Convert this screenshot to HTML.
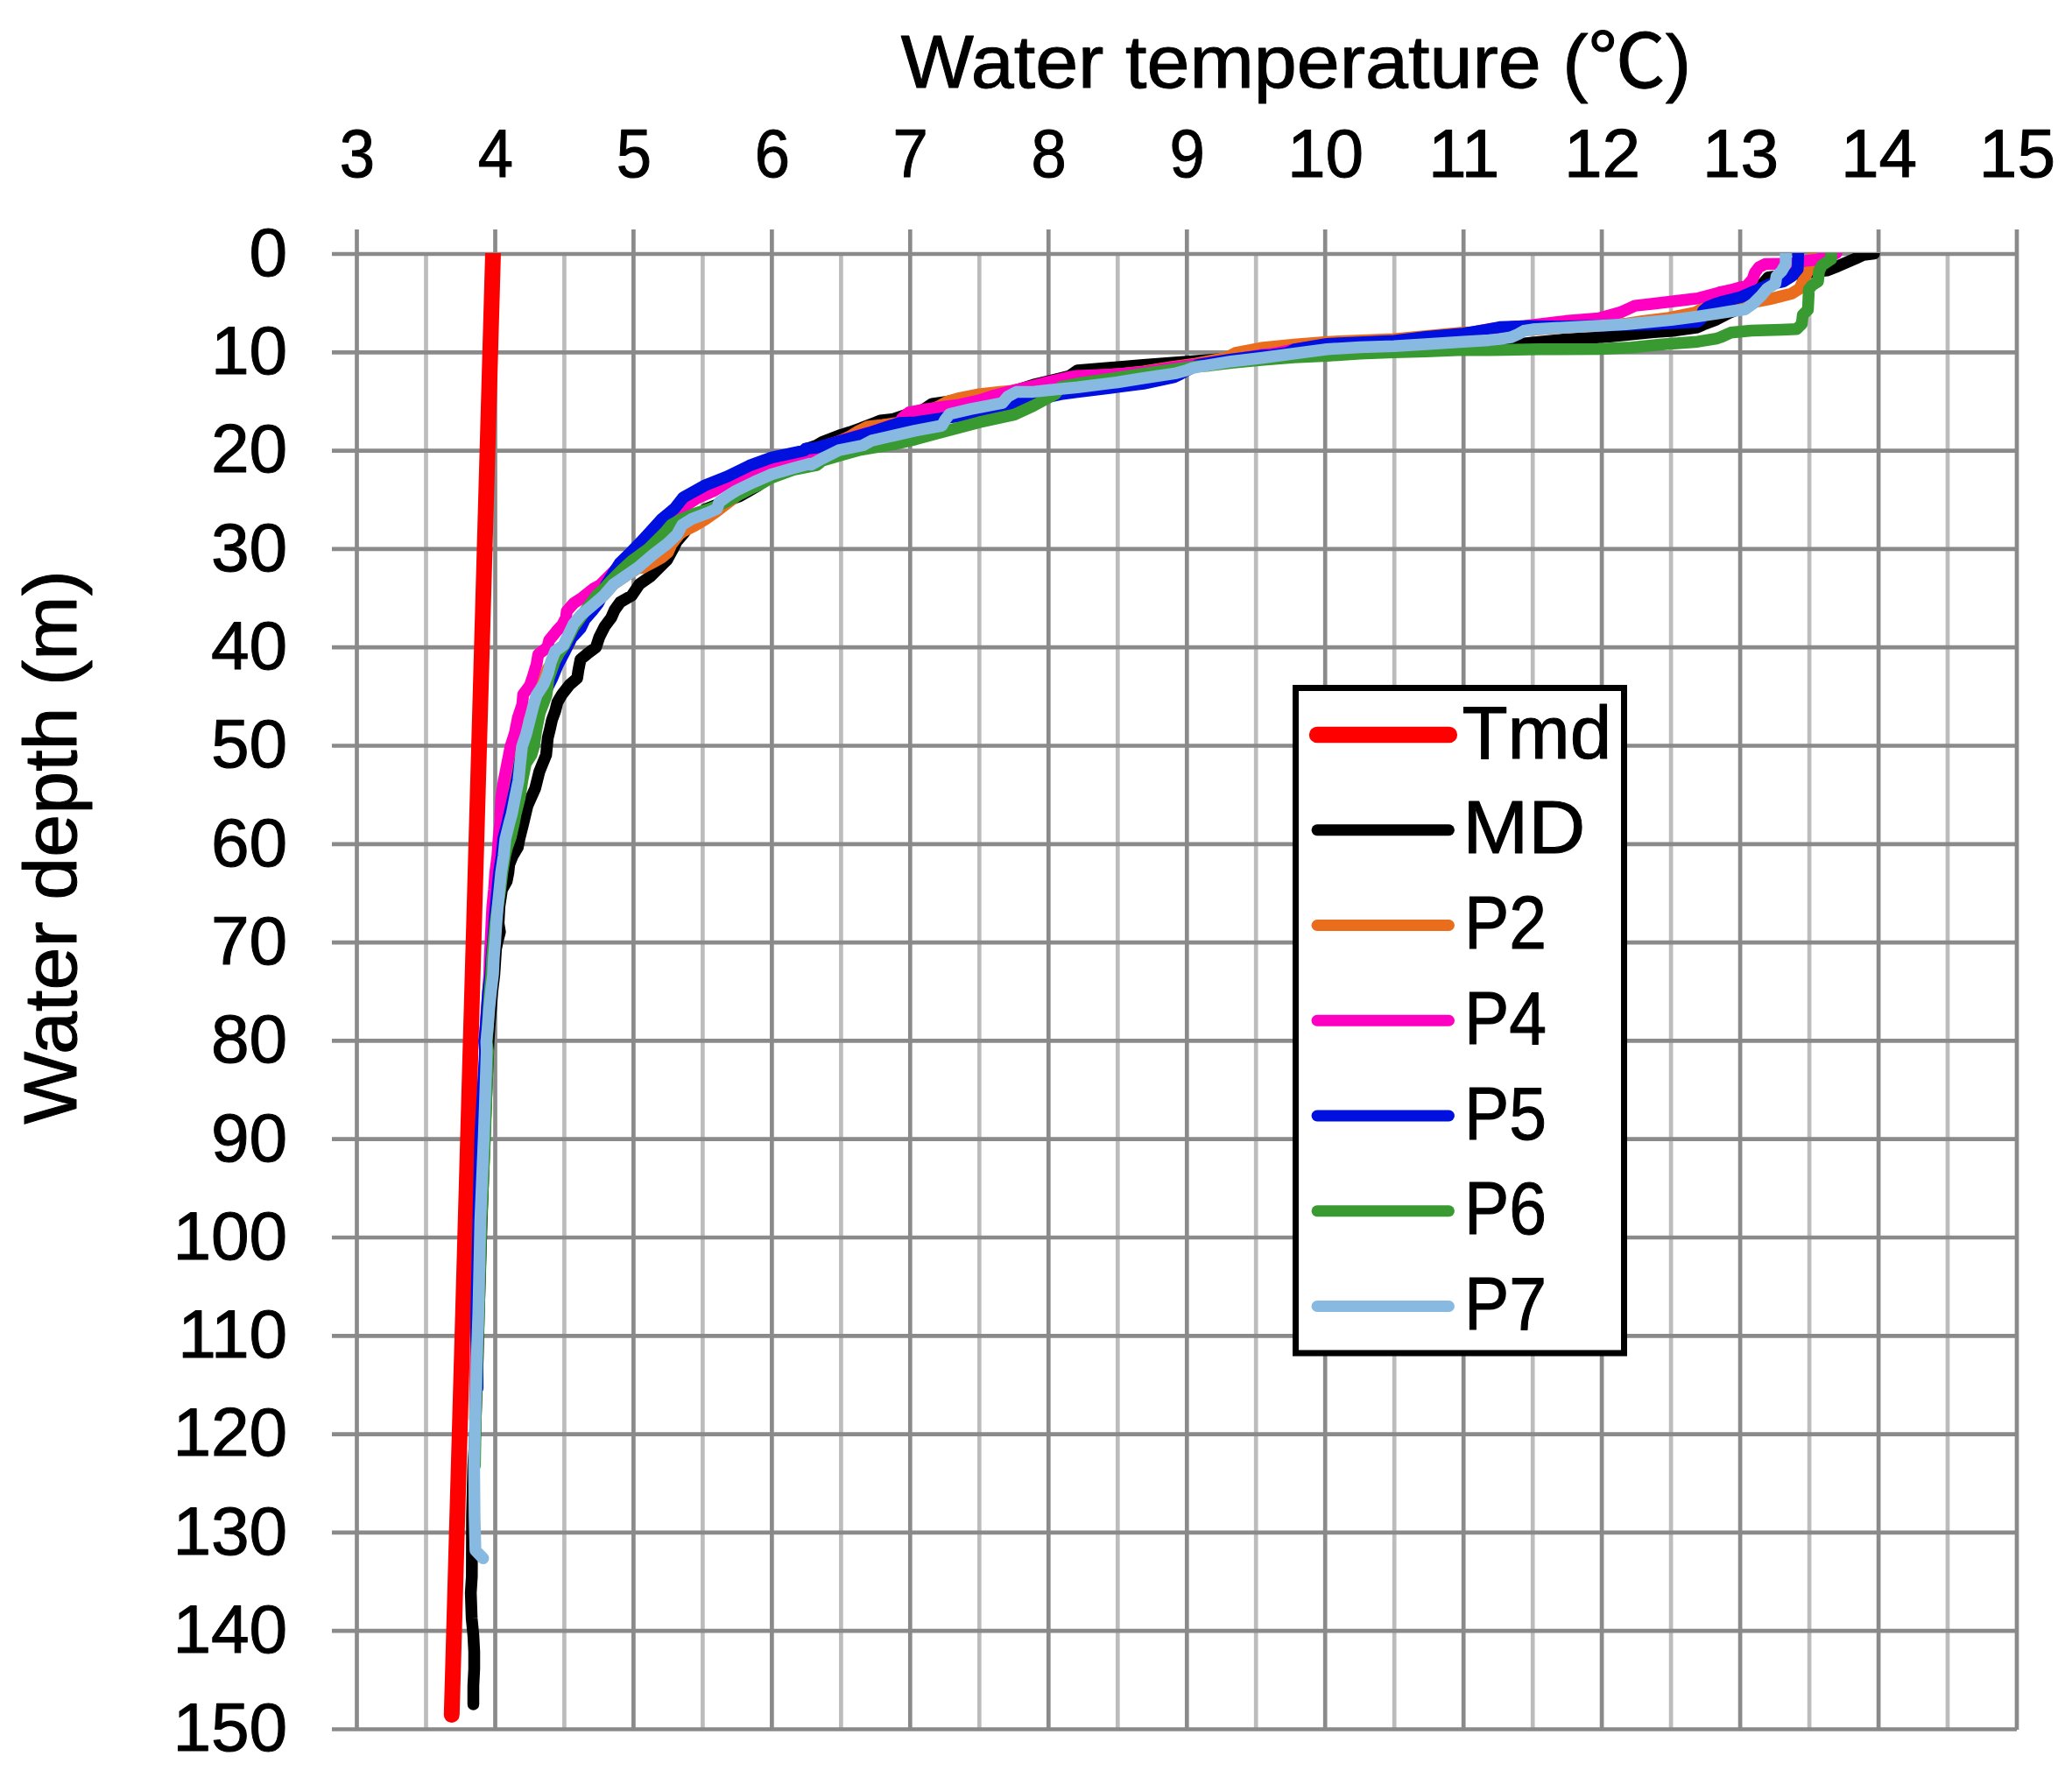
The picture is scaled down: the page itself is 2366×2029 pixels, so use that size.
<!DOCTYPE html>
<html lang="en"><head><meta charset="utf-8"><title>Water temperature profiles</title>
<style>
html,body{margin:0;padding:0;background:#fff;}
body{width:2366px;height:2029px;overflow:hidden;}
svg{display:block;}
text{font-family:"Liberation Sans",sans-serif;fill:#000;stroke:#000;stroke-width:1px;stroke-linejoin:round;}
</style></head><body>
<svg width="2366" height="2029" viewBox="0 0 2366 2029">
<defs><clipPath id="plot"><rect x="400" y="289" width="1910" height="1690"/></clipPath></defs>
<rect width="2366" height="2029" fill="#fff"/>
<g stroke="#bcbcbc" stroke-width="4.7">
<line x1="486.5" y1="290.0" x2="486.5" y2="1975.0"/>
<line x1="644.4" y1="290.0" x2="644.4" y2="1975.0"/>
<line x1="802.4" y1="290.0" x2="802.4" y2="1975.0"/>
<line x1="960.4" y1="290.0" x2="960.4" y2="1975.0"/>
<line x1="1118.3" y1="290.0" x2="1118.3" y2="1975.0"/>
<line x1="1276.3" y1="290.0" x2="1276.3" y2="1975.0"/>
<line x1="1434.2" y1="290.0" x2="1434.2" y2="1975.0"/>
<line x1="1592.2" y1="290.0" x2="1592.2" y2="1975.0"/>
<line x1="1750.2" y1="290.0" x2="1750.2" y2="1975.0"/>
<line x1="1908.1" y1="290.0" x2="1908.1" y2="1975.0"/>
<line x1="2066.1" y1="290.0" x2="2066.1" y2="1975.0"/>
<line x1="2224.0" y1="290.0" x2="2224.0" y2="1975.0"/>
</g>
<g stroke="#8a8a8a" stroke-width="4.7">
<line x1="379" y1="290.0" x2="2303.0" y2="290.0"/>
<line x1="379" y1="402.3" x2="2303.0" y2="402.3"/>
<line x1="379" y1="514.6" x2="2303.0" y2="514.6"/>
<line x1="379" y1="626.9" x2="2303.0" y2="626.9"/>
<line x1="379" y1="739.2" x2="2303.0" y2="739.2"/>
<line x1="379" y1="851.5" x2="2303.0" y2="851.5"/>
<line x1="379" y1="963.8" x2="2303.0" y2="963.8"/>
<line x1="379" y1="1076.1" x2="2303.0" y2="1076.1"/>
<line x1="379" y1="1188.4" x2="2303.0" y2="1188.4"/>
<line x1="379" y1="1300.7" x2="2303.0" y2="1300.7"/>
<line x1="379" y1="1413.0" x2="2303.0" y2="1413.0"/>
<line x1="379" y1="1525.3" x2="2303.0" y2="1525.3"/>
<line x1="379" y1="1637.6" x2="2303.0" y2="1637.6"/>
<line x1="379" y1="1749.9" x2="2303.0" y2="1749.9"/>
<line x1="379" y1="1862.2" x2="2303.0" y2="1862.2"/>
<line x1="379" y1="1974.5" x2="2303.0" y2="1974.5"/>
</g>
<g stroke="#8a8a8a" stroke-width="4.7">
<line x1="407.5" y1="262" x2="407.5" y2="1975.0"/>
<line x1="565.5" y1="262" x2="565.5" y2="1975.0"/>
<line x1="723.4" y1="262" x2="723.4" y2="1975.0"/>
<line x1="881.4" y1="262" x2="881.4" y2="1975.0"/>
<line x1="1039.3" y1="262" x2="1039.3" y2="1975.0"/>
<line x1="1197.3" y1="262" x2="1197.3" y2="1975.0"/>
<line x1="1355.3" y1="262" x2="1355.3" y2="1975.0"/>
<line x1="1513.2" y1="262" x2="1513.2" y2="1975.0"/>
<line x1="1671.2" y1="262" x2="1671.2" y2="1975.0"/>
<line x1="1829.1" y1="262" x2="1829.1" y2="1975.0"/>
<line x1="1987.1" y1="262" x2="1987.1" y2="1975.0"/>
<line x1="2145.1" y1="262" x2="2145.1" y2="1975.0"/>
<line x1="2303.0" y1="262" x2="2303.0" y2="1975.0"/>
</g>
<g clip-path="url(#plot)">
<polyline points="563.2,282.0 515.8,1958.0" fill="none" stroke="#fe0000" stroke-width="18" stroke-linejoin="round" stroke-linecap="round"/>
<polyline points="2140.0,289.5 2128.0,291.0 2118.5,295.4 2095.5,305.2 2086.0,308.9 2045.8,313.2 2019.2,316.7 2011.1,326.0 2005.3,337.6 1994.9,349.1 1974.0,357.5 1960.0,364.9 1944.7,370.8 1938.4,373.7 1913.3,377.4 1888.2,379.3 1838.0,384.2 1787.8,387.5 1750.2,391.1 1740.2,392.1 1700.0,395.3 1670.8,395.2 1591.8,399.0 1515.3,402.7 1477.6,405.3 1440.0,407.8 1400.9,409.4 1355.1,412.9 1305.5,416.7 1276.1,419.2 1230.2,423.0 1221.4,429.2 1211.4,431.7 1197.1,435.3 1180.0,439.3 1155.9,447.1 1118.1,451.4 1095.7,455.8 1081.9,458.6 1064.3,461.1 1054.3,467.8 1032.9,474.3 1020.4,478.4 1005.3,480.1 1000.3,482.2 982.7,489.1 970.2,493.5 960.2,496.6 938.8,504.8 932.5,508.5 920.0,512.9 899.6,525.8 880.8,540.9 865.7,554.3 853.2,561.6 844.4,566.6 830.6,571.6 818.0,576.6 805.5,581.6 792.9,592.9 780.4,609.3 772.9,618.0 767.8,628.1 761.6,639.4 751.5,649.4 742.7,658.2 730.2,667.0 721.4,680.0 708.1,687.7 701.8,696.5 698.0,705.3 690.5,715.3 684.2,727.8 680.5,739.1 670.4,746.7 662.9,752.9 660.4,765.5 659.1,774.3 650.4,781.8 641.6,793.1 636.5,801.9 634.0,811.9 630.3,822.0 627.8,833.2 625.5,842.7 623.6,862.0 615.8,881.3 611.0,900.6 602.3,919.9 597.9,938.6 593.1,957.9 591.2,967.6 585.4,977.2 581.5,986.9 580.5,996.5 578.6,1006.2 573.2,1015.8 570.3,1035.1 569.3,1054.4 570.9,1064.1 568.4,1073.7 566.4,1083.4 564.5,1112.4 562.2,1131.7 560.7,1151.0 559.1,1170.3 557.8,1189.6 557.4,1200.0 553.5,1296.5 550.0,1393.1 546.8,1500.0 545.6,1548.3 543.3,1615.8 542.1,1648.6 540.4,1673.7 539.0,1731.7 538.8,1800.0 537.6,1818.6 538.6,1847.6 540.5,1866.9 541.5,1886.2 541.5,1905.5 540.5,1924.8 540.5,1946.0" fill="none" stroke="#000000" stroke-width="13.5" stroke-linejoin="round" stroke-linecap="round"/>
<polyline points="2071.3,286.6 2069.0,298.2 2064.4,309.8 2058.6,321.3 2055.1,329.4 2045.8,335.2 2034.3,338.1 2020.4,341.6 1987.9,348.0 1964.8,350.3 1960.0,348.8 1942.2,353.5 1934.7,357.2 1905.8,362.9 1875.7,366.6 1858.1,369.4 1825.5,372.0 1787.8,373.9 1700.0,379.6 1670.8,379.8 1591.8,387.3 1515.3,390.4 1477.6,393.6 1440.0,397.3 1410.9,402.9 1400.9,408.3 1365.7,415.2 1336.9,419.2 1305.5,424.2 1277.9,427.1 1230.2,430.2 1180.0,440.9 1155.9,446.1 1139.6,447.7 1118.1,450.2 1095.7,454.6 1081.9,458.4 1070.6,464.6 1045.5,474.0 1025.4,482.8 1007.8,485.3 990.3,487.2 980.2,492.2 970.2,498.5 957.6,504.2 932.5,512.9 920.0,518.6 920.1,520.2 881.3,533.3 855.7,553.0 836.9,569.7 818.0,584.2 805.5,592.9 792.9,600.5 780.4,606.7 775.4,610.5 770.4,616.8 766.6,621.8 762.8,630.6 755.3,636.9 742.7,643.8 734.0,648.2 728.3,648.8 714.5,657.6 700.7,667.0 690.2,678.6 669.9,697.9 656.4,717.2 649.6,735.6 635.1,750.0 625.5,763.6 617.8,784.8 610.0,804.1 604.2,823.4 597.5,842.7 591.7,865.9 589.2,881.3 586.9,898.7 583.0,919.9 580.3,938.6 575.5,957.9 573.6,977.2 570.7,996.5 568.8,1015.8 566.8,1035.1 565.3,1054.4 563.9,1073.7 562.4,1093.1 561.4,1112.4 559.1,1131.7 557.2,1151.0 555.6,1170.3 553.7,1189.6 554.3,1200.0 549.7,1296.5 546.6,1393.1 544.6,1500.0 543.1,1529.0 542.7,1577.2 542.3,1619.7" fill="none" stroke="#ea6d1e" stroke-width="13.5" stroke-linejoin="round" stroke-linecap="round"/>
<polyline points="2097.0,289.1 2075.0,296.5 2060.0,298.1 2045.8,301.1 2015.7,301.6 2008.8,305.1 2004.1,310.9 2001.2,319.0 1994.9,326.0 1976.3,331.2 1964.8,333.5 1960.0,335.1 1938.4,340.8 1888.2,346.7 1866.9,349.1 1850.6,356.6 1825.5,363.5 1787.8,366.6 1741.4,372.3 1716.3,374.3 1700.0,375.8 1670.8,381.4 1628.2,385.2 1591.8,389.6 1552.9,391.4 1515.3,393.3 1477.6,399.0 1452.5,404.0 1440.0,405.3 1405.9,410.8 1365.7,416.1 1336.9,419.8 1305.5,424.8 1276.1,427.3 1230.2,429.2 1221.4,430.5 1197.1,436.1 1180.0,440.5 1155.9,446.4 1133.3,452.1 1118.1,457.1 1095.7,462.1 1075.6,464.6 1054.3,467.8 1038.0,470.9 1030.4,477.2 1026.7,482.8 995.3,493.1 960.2,503.1 945.1,507.9 932.5,513.6 920.0,519.2 918.4,520.8 881.3,529.6 855.7,538.6 830.6,550.9 815.5,560.3 795.4,569.1 780.4,579.1 772.9,586.7 756.5,594.8 745.3,606.7 733.7,619.3 721.4,631.8 708.9,644.4 697.6,655.7 685.0,668.2 677.6,672.2 665.0,682.3 655.0,688.9 647.2,697.7 646.3,705.3 642.2,713.4 635.3,720.9 627.1,731.0 625.0,739.1 614.6,747.3 612.7,758.6 608.9,771.1 605.2,782.4 597.4,793.1 596.4,804.4 591.4,819.4 587.9,837.0 583.0,852.4 579.2,871.7 575.3,891.0 572.4,910.3 571.4,929.6 571.3,938.6 569.3,957.9 568.0,977.2 565.5,996.5 564.1,1015.8 562.2,1035.1 561.2,1054.4 560.3,1073.7 559.3,1093.1 558.7,1112.4 557.4,1131.7 555.8,1151.0 554.7,1170.3 553.3,1189.6 554.3,1200.0 549.3,1296.5 546.6,1393.1 544.2,1500.0 543.5,1557.9 542.9,1610.0" fill="none" stroke="#ff00c2" stroke-width="13.5" stroke-linejoin="round" stroke-linecap="round"/>
<polyline points="2053.4,286.6 2052.8,307.4 2045.8,315.5 2036.6,321.3 2020.4,324.8 2004.1,332.3 1987.9,339.3 1964.8,345.1 1960.0,346.6 1949.7,350.7 1944.7,355.1 1942.8,363.9 1938.4,367.4 1888.2,369.9 1846.8,371.2 1830.5,371.8 1787.8,372.7 1741.4,372.5 1712.5,373.5 1700.0,376.1 1670.8,381.0 1628.2,384.8 1591.8,389.2 1552.9,391.1 1515.3,392.7 1477.6,399.2 1470.1,403.0 1452.5,405.5 1440.0,406.1 1405.9,410.4 1368.2,416.7 1355.7,422.7 1346.9,427.7 1340.6,430.6 1305.5,438.1 1276.1,441.9 1230.2,447.6 1211.4,450.1 1192.5,454.1 1180.0,456.6 1165.5,458.4 1117.1,470.3 1093.0,475.5 1074.3,477.8 1045.5,482.2 1026.7,483.1 995.3,493.5 960.2,503.5 932.5,511.1 920.0,512.3 918.4,514.5 881.3,522.3 855.7,531.7 830.6,544.0 805.5,554.0 780.4,567.8 770.4,580.4 755.3,592.9 744.0,605.5 732.5,618.0 720.2,630.6 707.6,643.1 699.5,655.7 691.9,668.2 688.2,678.6 683.4,688.3 676.1,697.9 667.6,707.6 663.1,717.2 652.5,728.8 644.8,744.2 636.7,759.7 630.3,775.1 622.6,790.6 613.9,809.9 606.2,829.2 599.4,848.5 594.0,867.8 591.7,881.3 588.0,900.6 583.8,919.9 579.6,938.6 574.7,957.9 572.8,977.2 569.9,996.5 568.0,1015.8 566.1,1035.1 564.5,1054.4 563.0,1073.7 561.4,1093.1 560.1,1112.4 557.4,1131.7 556.2,1151.0 554.7,1170.3 553.1,1189.6 553.9,1200.0 548.5,1296.5 546.2,1393.1 543.9,1500.0 543.9,1529.0 545.2,1557.9 545.4,1584.9" fill="none" stroke="#0010de" stroke-width="13.5" stroke-linejoin="round" stroke-linecap="round"/>
<polyline points="2091.0,286.6 2091.0,295.9 2080.6,302.8 2077.1,309.8 2076.0,321.3 2069.0,326.0 2065.5,330.6 2064.9,344.5 2064.4,353.8 2058.6,359.6 2057.4,370.0 2051.6,375.8 2034.3,376.4 1999.5,377.5 1976.3,379.8 1964.8,385.0 1960.0,386.7 1938.4,390.2 1900.8,393.0 1863.1,396.8 1825.5,398.4 1757.7,398.8 1718.8,399.4 1700.0,399.8 1670.8,399.4 1628.2,401.2 1591.8,402.2 1552.9,403.7 1515.3,406.3 1477.6,408.1 1440.0,411.0 1405.9,414.3 1380.8,417.4 1368.2,418.3 1355.1,419.8 1305.5,426.7 1276.1,431.1 1230.2,438.0 1211.4,441.8 1205.1,449.8 1192.5,456.7 1180.0,463.4 1158.4,473.4 1118.1,482.2 1070.6,494.7 1045.5,501.6 1020.4,507.3 982.7,513.6 960.2,519.8 938.8,526.1 932.5,531.1 931.0,531.4 905.9,536.5 881.3,545.3 868.2,553.0 855.7,558.7 843.1,565.3 828.1,573.5 811.8,580.4 792.9,586.7 777.9,592.9 766.6,599.2 760.3,606.7 750.3,616.8 740.2,626.8 722.7,639.4 710.1,650.7 697.6,663.2 688.8,673.2 682.4,678.6 668.0,697.9 654.4,717.2 644.8,736.5 638.0,746.2 633.2,755.8 626.4,775.1 623.9,794.4 616.4,813.7 612.5,833.1 609.7,852.4 606.8,862.0 600.4,871.7 596.5,891.0 593.6,910.3 588.8,929.6 587.1,938.6 583.2,956.0 579.0,967.6 576.7,977.2 573.6,996.5 571.3,1015.8 568.4,1035.1 565.5,1054.4 563.6,1073.7 562.0,1093.1 561.0,1112.4 559.3,1131.7 558.1,1151.0 557.2,1170.3 555.8,1189.6 557.2,1200.0 553.9,1296.5 549.7,1393.1 546.8,1500.0 544.8,1557.9 543.3,1615.8 542.3,1673.7" fill="none" stroke="#389a30" stroke-width="13.5" stroke-linejoin="round" stroke-linecap="round"/>
<polyline points="2039.1,286.6 2039.1,301.6 2034.3,309.8 2028.5,315.5 2027.3,323.7 2018.0,329.4 2011.1,337.6 2001.8,346.8 1992.6,353.2 1976.3,355.5 1960.0,358.2 1938.4,361.4 1908.3,365.4 1856.9,370.2 1825.5,372.0 1787.8,373.9 1750.2,376.1 1740.2,377.7 1733.9,381.4 1725.1,385.2 1712.5,387.1 1700.0,388.4 1670.8,390.2 1628.2,393.0 1591.8,395.2 1552.9,396.5 1515.3,398.7 1477.6,403.7 1440.0,408.8 1405.9,412.7 1375.8,417.7 1362.0,420.2 1355.1,422.7 1343.1,426.1 1305.5,431.7 1276.1,436.5 1230.2,442.2 1197.1,445.5 1180.0,447.4 1160.9,447.4 1150.9,452.7 1144.6,460.2 1108.2,467.1 1084.4,472.8 1079.4,479.1 1075.6,486.0 1045.5,491.6 1020.4,497.3 995.3,503.1 985.3,508.5 957.6,514.2 938.8,523.6 926.3,530.5 924.7,529.6 905.9,534.6 881.3,541.5 860.7,550.5 840.6,560.3 830.6,566.6 821.2,573.5 818.7,581.0 805.5,586.7 790.4,592.3 779.1,599.2 772.9,610.5 761.6,621.2 745.3,633.7 728.3,648.2 714.5,657.6 700.7,667.0 689.3,680.2 675.4,692.1 662.9,702.7 654.7,712.8 649.1,724.7 643.4,736.6 634.0,743.5 629.0,756.1 625.9,768.6 620.9,781.2 612.7,793.7 608.9,806.3 605.8,818.8 600.8,838.3 596.1,852.4 594.0,871.7 592.1,891.0 588.2,910.3 584.4,929.6 581.9,938.6 577.1,957.9 575.1,977.2 572.2,996.5 570.3,1015.8 568.4,1035.1 566.8,1054.4 565.5,1073.7 563.9,1093.1 563.0,1112.4 560.7,1131.7 558.7,1151.0 557.2,1170.3 555.3,1189.6 555.8,1200.0 552.5,1296.5 548.5,1393.1 546.2,1500.0 544.2,1557.9 542.7,1615.8 541.4,1673.7 541.9,1731.7 542.9,1770.3 551.6,1779.3" fill="none" stroke="#88b9e1" stroke-width="13.5" stroke-linejoin="round" stroke-linecap="round"/>
</g>
<rect x="1479.5" y="785.5" width="375" height="759.5" fill="#fff" stroke="#000" stroke-width="7"/>
<line x1="1504.0" y1="839.0" x2="1654.9" y2="839.0" stroke="#fe0000" stroke-width="18.4" stroke-linecap="round"/>
<text class="lg" x="1669.4" y="865.6" font-size="85.5">Tmd</text>
<line x1="1504.0" y1="947.8" x2="1654.5" y2="947.8" stroke="#000000" stroke-width="12.9" stroke-linecap="round"/>
<text class="lg" x="1670.2" y="974.4" font-size="85.5" textLength="140.2" lengthAdjust="spacingAndGlyphs">MD</text>
<line x1="1504.0" y1="1056.5" x2="1654.5" y2="1056.5" stroke="#ea6d1e" stroke-width="12.9" stroke-linecap="round"/>
<text class="lg" x="1672.0" y="1083.1" font-size="85.5" textLength="94.1" lengthAdjust="spacingAndGlyphs">P2</text>
<line x1="1504.0" y1="1165.2" x2="1654.5" y2="1165.2" stroke="#ff00c2" stroke-width="12.9" stroke-linecap="round"/>
<text class="lg" x="1672.0" y="1191.8" font-size="85.5" textLength="94.1" lengthAdjust="spacingAndGlyphs">P4</text>
<line x1="1504.0" y1="1274.0" x2="1654.5" y2="1274.0" stroke="#0010de" stroke-width="12.9" stroke-linecap="round"/>
<text class="lg" x="1672.0" y="1300.6" font-size="85.5" textLength="94.1" lengthAdjust="spacingAndGlyphs">P5</text>
<line x1="1504.0" y1="1382.8" x2="1654.5" y2="1382.8" stroke="#389a30" stroke-width="12.9" stroke-linecap="round"/>
<text class="lg" x="1672.0" y="1409.3" font-size="85.5" textLength="94.1" lengthAdjust="spacingAndGlyphs">P6</text>
<line x1="1504.0" y1="1491.5" x2="1654.5" y2="1491.5" stroke="#88b9e1" stroke-width="12.9" stroke-linecap="round"/>
<text class="lg" x="1672.0" y="1518.1" font-size="85.5" textLength="94.1" lengthAdjust="spacingAndGlyphs">P7</text>
<text class="tk" x="407.9" y="202" font-size="78.4" text-anchor="middle" textLength="40.3" lengthAdjust="spacingAndGlyphs">3</text>
<text class="tk" x="565.9" y="202" font-size="78.4" text-anchor="middle" textLength="40.3" lengthAdjust="spacingAndGlyphs">4</text>
<text class="tk" x="723.8" y="202" font-size="78.4" text-anchor="middle" textLength="40.3" lengthAdjust="spacingAndGlyphs">5</text>
<text class="tk" x="881.8" y="202" font-size="78.4" text-anchor="middle" textLength="40.3" lengthAdjust="spacingAndGlyphs">6</text>
<text class="tk" x="1039.7" y="202" font-size="78.4" text-anchor="middle" textLength="40.3" lengthAdjust="spacingAndGlyphs">7</text>
<text class="tk" x="1197.7" y="202" font-size="78.4" text-anchor="middle" textLength="40.3" lengthAdjust="spacingAndGlyphs">8</text>
<text class="tk" x="1355.7" y="202" font-size="78.4" text-anchor="middle" textLength="40.3" lengthAdjust="spacingAndGlyphs">9</text>
<text class="tk" x="1513.6" y="202" font-size="78.4" text-anchor="middle">10</text>
<text class="tk" x="1671.6" y="202" font-size="78.4" text-anchor="middle">11</text>
<text class="tk" x="1829.5" y="202" font-size="78.4" text-anchor="middle">12</text>
<text class="tk" x="1987.5" y="202" font-size="78.4" text-anchor="middle">13</text>
<text class="tk" x="2145.5" y="202" font-size="78.4" text-anchor="middle">14</text>
<text class="tk" x="2303.4" y="202" font-size="78.4" text-anchor="middle">15</text>
<text class="tk" x="328.2" y="314.8" font-size="78.4" text-anchor="end">0</text>
<text class="tk" x="328.2" y="427.1" font-size="78.4" text-anchor="end">10</text>
<text class="tk" x="328.2" y="539.4" font-size="78.4" text-anchor="end">20</text>
<text class="tk" x="328.2" y="651.7" font-size="78.4" text-anchor="end">30</text>
<text class="tk" x="328.2" y="764.0" font-size="78.4" text-anchor="end">40</text>
<text class="tk" x="328.2" y="876.3" font-size="78.4" text-anchor="end">50</text>
<text class="tk" x="328.2" y="988.6" font-size="78.4" text-anchor="end">60</text>
<text class="tk" x="328.2" y="1100.9" font-size="78.4" text-anchor="end">70</text>
<text class="tk" x="328.2" y="1213.2" font-size="78.4" text-anchor="end">80</text>
<text class="tk" x="328.2" y="1325.5" font-size="78.4" text-anchor="end">90</text>
<text class="tk" x="328.2" y="1437.8" font-size="78.4" text-anchor="end">100</text>
<text class="tk" x="328.2" y="1550.1" font-size="78.4" text-anchor="end">110</text>
<text class="tk" x="328.2" y="1662.4" font-size="78.4" text-anchor="end">120</text>
<text class="tk" x="328.2" y="1774.7" font-size="78.4" text-anchor="end">130</text>
<text class="tk" x="328.2" y="1887.0" font-size="78.4" text-anchor="end">140</text>
<text class="tk" x="328.2" y="1999.3" font-size="78.4" text-anchor="end">150</text>
<text id="xt" class="tt" x="1028.8" y="99.9" font-size="85.5" textLength="902.3" lengthAdjust="spacingAndGlyphs">Water temperature (<tspan font-family="'Noto Sans CJK SC','Noto Sans CJK JP',sans-serif">℃</tspan>)</text>
<text id="yt" class="tt" transform="translate(87 1283.7) rotate(-90)" font-size="85.5" textLength="632.7" lengthAdjust="spacingAndGlyphs">Water depth (m)</text>
</svg>
</body></html>
